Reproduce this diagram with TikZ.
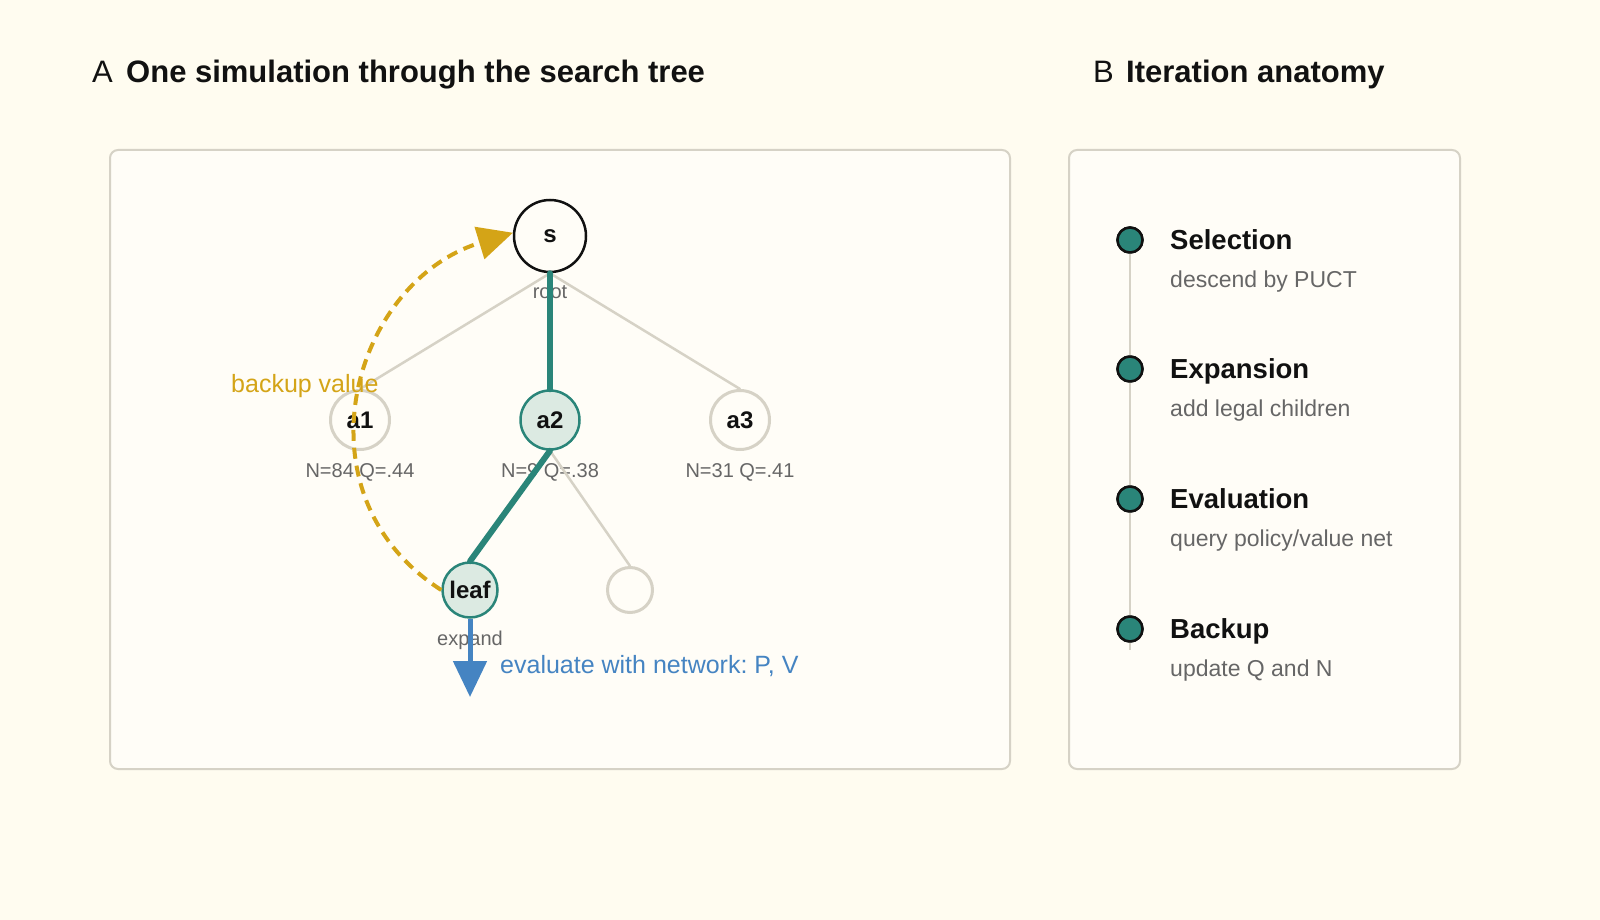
\documentclass[tikz,border=0pt]{standalone}
\usepackage{fontspec}
\setmainfont{Liberation Sans}
\usetikzlibrary{arrows.meta}
\frenchspacing
\definecolor{bgc}{HTML}{FFFCF0}
\definecolor{panelfill}{HTML}{FFFDF7}
\definecolor{panelline}{HTML}{D6D2C6}
\definecolor{ink}{HTML}{111111}
\definecolor{subgrey}{HTML}{666666}
\definecolor{teal}{HTML}{2A8579}
\definecolor{tealfill}{HTML}{DCEAE2}
\definecolor{gold}{HTML}{D4A417}
\definecolor{bluec}{HTML}{4584C2}
\definecolor{edgegrey}{HTML}{D6D2C6}
\begin{document}
\begin{tikzpicture}[x=1pt,y=-1pt,
  panel/.style={draw=panelline, line width=2pt, fill=panelfill, rounded corners=8pt},
  ttlletter/.style={font=\fontsize{31}{37}\selectfont, text=ink, anchor=base west, inner sep=0pt},
  ttl/.style={font=\fontsize{31}{37}\selectfont\bfseries, text=ink, anchor=base west, inner sep=0pt},
  stepttl/.style={font=\fontsize{27.5}{33}\selectfont\bfseries, text=ink, anchor=base west, inner sep=0pt},
  stepsub/.style={font=\fontsize{23}{27}\selectfont, text=subgrey, anchor=base west, inner sep=0pt},
  tn/.style={circle, inner sep=0pt, font=\fontsize{24}{28}\selectfont\bfseries, text=ink},
  rootn/.style={tn, draw=ink, line width=2.5pt, fill=panelfill, minimum size=72pt},
  plainn/.style={tn, draw=edgegrey, line width=3pt, fill=panelfill, minimum size=59pt},
  hotn/.style={tn, draw=teal, line width=2.5pt, fill=tealfill, minimum size=59pt},
  stat/.style={font=\fontsize{20}{24}\selectfont, text=subgrey, anchor=base, inner sep=0pt},
  note/.style={font=\fontsize{25}{30}\selectfont, anchor=base west, inner sep=0pt},
  greyedge/.style={draw=edgegrey, line width=2.5pt, line cap=round},
  tealedge/.style={draw=teal, line width=6pt, line cap=round},
  dot/.style={circle, draw=ink, line width=2.5pt, fill=teal, minimum size=25pt, inner sep=0pt},
  rail/.style={draw=edgegrey, line width=2pt}
]
\fill[bgc] (0,0) rectangle (1600,920);
\path[use as bounding box] (0,0) rectangle (1600,920);

% titles
\node[ttlletter] (tA) at (92,83) {A};
\node[ttl] (tAt) at (126,83) {One simulation through the search tree};
\node[ttlletter] (tB) at (1093,83) {B};
\node[ttl] (tBt) at (1126,83) {Iteration anatomy};

% panels
\draw[panel] (110,150) rectangle (1010,769);
\draw[panel] (1069,150) rectangle (1460,769);

% tree nodes
\node[rootn] (s) at (550,236) {s};
\node[plainn] (a1) at (360,420) {a1};
\node[hotn] (a2) at (550,420) {a2};
\node[plainn] (a3) at (740,420) {a3};
\node[hotn, minimum size=55pt] (leaf) at (470,590) {leaf};
\node[plainn, minimum size=45pt] (e1) at (630,590) {};

% labels
\node[stat] (lroot) at (550,298) {root};
\node[stat] (l1) at (360,477) {N=84 Q=.44};
\node[stat] (l2) at (550,477) {N=9 Q=.38};
\node[stat] (l3) at (740,477) {N=31 Q=.41};
\node[stat] (lexp) at (470,645) {expand};

% edges
\draw[greyedge] (s.south) -- (a1.north);
\draw[greyedge] (s.south) -- (a3.north);
\draw[greyedge] (a2.south) -- (e1.north);
\draw[tealedge] (s.south) -- (a2.north);
\draw[tealedge] (a2.south) -- (leaf.north);

% evaluation arrow
\coordinate (evalend) at (470,697);
\draw[draw=bluec, line width=5pt, -{Triangle[length=36pt,width=33pt]}] (leaf.south) -- (evalend);
\node[note, text=bluec] (evtxt) at (500,673) {evaluate with network: P, V};

% backup
\node[note, text=gold] (bktxt) at (231,392) {backup value};
\draw[draw=gold, line width=4pt, dash pattern=on 11pt off 7pt, -{Triangle[length=35pt,width=33pt]}]
  (leaf.west) .. controls (292,494) and (352,282) .. (s.175);

% right panel: timeline
\coordinate (railend) at (1130,650);
\node[dot] (d1) at (1130,240) {};
\node[dot] (d2) at (1130,369) {};
\node[dot] (d3) at (1130,499) {};
\node[dot] (d4) at (1130,629) {};
\draw[rail] (d1.center) -- (railend);
\node[dot] at (d1) {};
\node[dot] at (d2) {};
\node[dot] at (d3) {};
\node[dot] at (d4) {};

\node[stepttl] (s1) at (1170,249) {Selection};
\node[stepsub] (s1b) at (1170,287) {descend by PUCT};
\node[stepttl] (s2) at (1170,378) {Expansion};
\node[stepsub] (s2b) at (1170,416) {add legal children};
\node[stepttl] (s3) at (1170,508) {Evaluation};
\node[stepsub] (s3b) at (1170,546) {query policy/value net};
\node[stepttl] (s4) at (1170,638) {Backup};
\node[stepsub] (s4b) at (1170,676) {update Q and N};
\end{tikzpicture}
\end{document}
